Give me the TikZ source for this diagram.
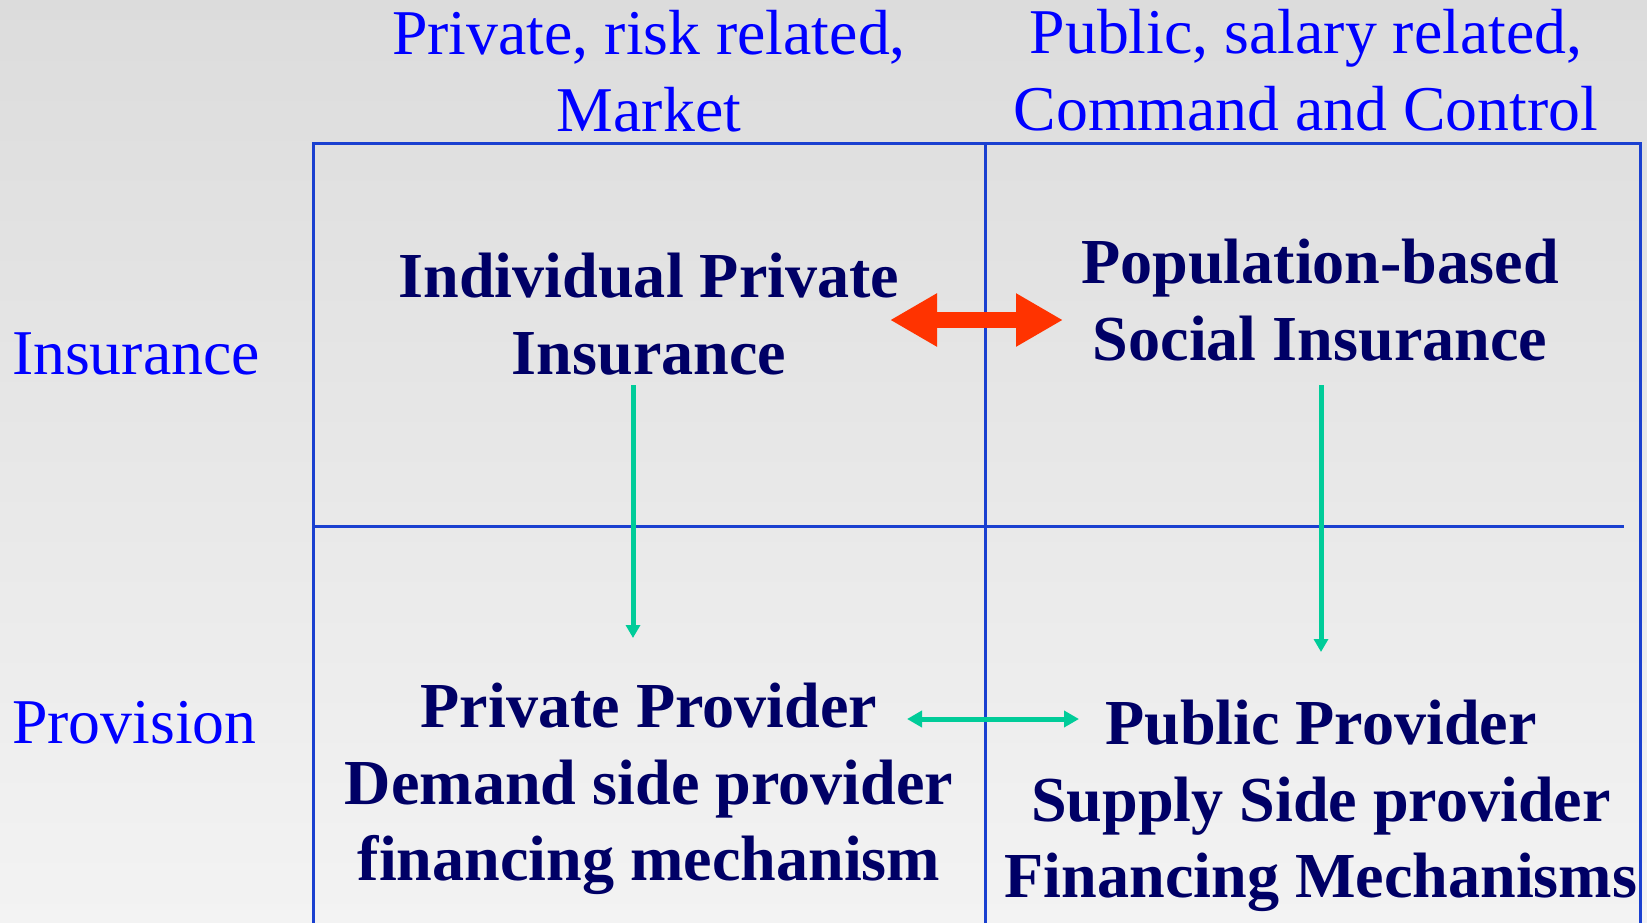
\documentclass[tikz,border=0pt]{standalone}
\usepackage{xcolor}
\usepackage{fontspec}
\setmainfont{Liberation Serif}
\usepackage{tikz}
\usetikzlibrary{arrows.meta, positioning}

\definecolor{headblue}{RGB}{0,0,255}
\definecolor{navy}{RGB}{0,0,102}
\definecolor{gridblue}{RGB}{26,64,208}
\definecolor{arrowred}{RGB}{255,51,0}
\definecolor{flowteal}{RGB}{0,204,153}

\begin{document}
\begin{tikzpicture}[
            x=0.02cm, y=-0.02cm,
            head/.style={
                text=headblue,
                font=\fontsize{36.3pt}{43.5pt}\selectfont,
                align=center,
                inner sep=0pt,
                outer sep=0pt
  },
  cell/.style={
    text=navy,
    font=\fontsize{36.5pt}{43.5pt}\selectfont\bfseries,
    align=center,
    inner sep=0pt,
    outer sep=0pt
  },
  grid/.style={
    gridblue,
    line width=0.06cm
  },
  swap/.style={
    {Triangle[length=0.94cm, width=1.0cm]}-{Triangle[length=0.94cm, width=1.0cm]},
    line width=0.32cm,
    arrowred
  },
  flow/.style={
    -{Triangle[length=0.26cm, width=0.28cm]},
    line width=0.1cm,
    flowteal
  }
]

% Background
\shade [top color={rgb,255:red,220;green,220;blue,220}, bottom color={rgb,255:red,243;green,243;blue,243}]
  (0,0) rectangle (1647,923);
\useasboundingbox (0,0) rectangle (1647,923);

% Grid
\draw [grid] (313,940) -- (313,143) -- (1640,143) -- (1640,940);
\draw [grid] (985,143) -- (985,940);
\draw [grid] (313,526) -- (1624,526);

% Column headers
\node [head] (colprivate) at (649,71) {Private, risk related,\\Market};
\node [head] (colpublic) at (1306,70) {Public, salary related,\\Command and Control};

% Row labels
\node [head, anchor=base west] (rowins) at (12,374) {Insurance};
\node [head, anchor=base west] (rowprov) at (12,743) {Provision};

% Cells
\node [cell] (ipi) at (649,314) {Individual Private\\Insurance};
\node [cell] (psi) at (1320,300) {Population-based\\Social Insurance};
\node [cell] (ppd) at (649,789) {Private Provider\\Demand side provider\\financing mechanism};
\node [cell] (pps) at (1321,806) {Public Provider\\Supply Side provider\\Financing Mechanisms};

% Arrow ends
\coordinate (ipi-r) at (890,320);
\coordinate (psi-l) at (1063,320);
\coordinate (ipi-d) at (633,385);
\coordinate (ppd-u) at (633,638);
\coordinate (psi-d) at (1321,385);
\coordinate (pps-u) at (1321,652);
\coordinate (ppd-r) at (907,719);
\coordinate (pps-l) at (1079,719);

% Arrows
\draw [swap] (ipi-r) -- (psi-l);
\draw [flow] (ipi-d) -- (ppd-u);
\draw [flow] (psi-d) -- (pps-u);
\draw [flow, {Triangle[length=0.3cm, width=0.32cm]}-{Triangle[length=0.3cm, width=0.32cm]}] (ppd-r) -- (pps-l);

\end{tikzpicture}
\end{document}
